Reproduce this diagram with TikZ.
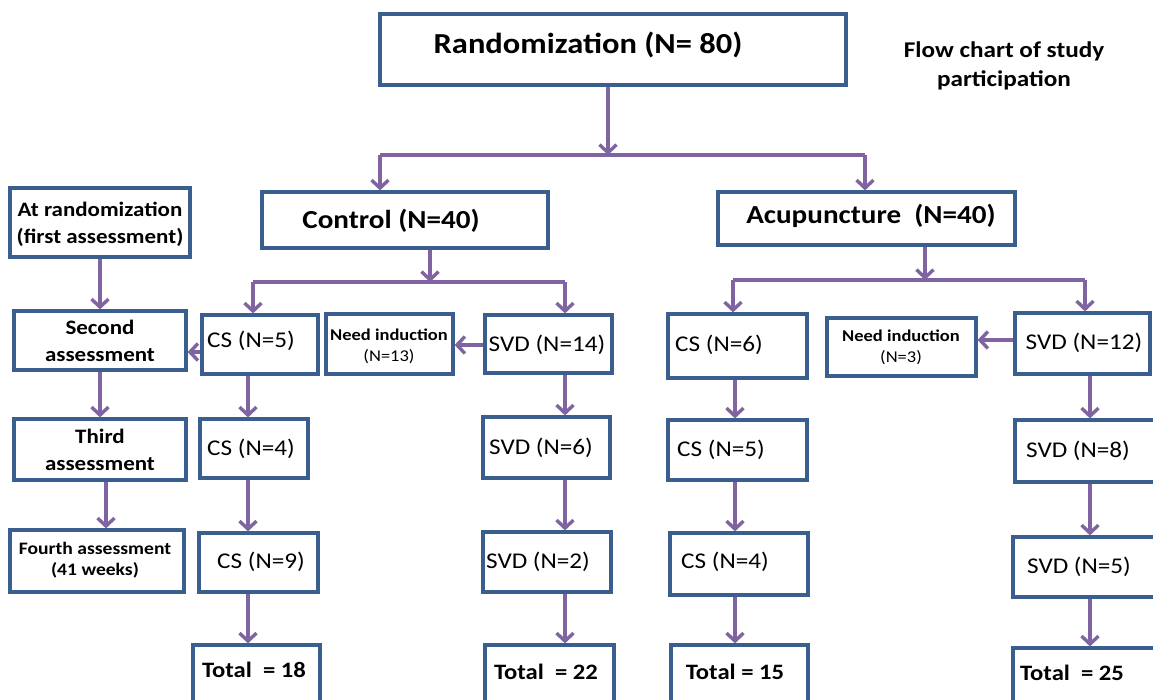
\documentclass[tikz,border=0pt]{standalone}
\usepackage{fontspec}
\setmainfont[FakeStretch=1.12]{Carlito}
\usetikzlibrary{arrows.meta}
\definecolor{boxblue}{HTML}{3A5F8E}
\definecolor{arrpurple}{HTML}{8064A2}
\newcommand\mkbox[5]{\node[box, minimum width={#3-#2}, minimum height={#5-#4}] (#1) at ({(#2+#3)/2},{(#4+#5)/2}) {};}
\newcommand\fsz[2]{\fontsize{#1}{#2}\selectfont}
\tikzset{
  box/.style={draw=boxblue, line width=3.2pt, fill=white, inner sep=0pt},
  arr/.style={draw=arrpurple, line width=3.4pt, -{Straight Barb[length=8pt,width=17pt]}},
  ln/.style={draw=arrpurple, line width=3.4pt},
  txt/.style={inner sep=0pt, text=black, align=center},
  big/.style={txt, font=\fsz{29}{34}\bfseries},
  mid/.style={txt, font=\fsz{26}{31}\bfseries},
  side/.style={txt, font=\fsz{20.5}{27}\bfseries},
  reg/.style={txt, font=\fsz{22.5}{27}},
  tot/.style={txt, font=\fsz{22}{26}\bfseries},
}
\begin{document}
\begin{tikzpicture}[x=1pt,y=-1pt]
\useasboundingbox (0,0) rectangle (1153,700);
\clip (0,0) rectangle (1153,700);
\fill[white] (0,0) rectangle (1153,700);

% boxes
\mkbox{rand}{380}{846}{14}{85}
\mkbox{ctrl}{262}{548}{192}{248}
\mkbox{acu}{718}{1015}{192}{245}
\mkbox{a1}{10}{190}{188}{257}
\mkbox{a2}{14}{186}{311}{370}
\mkbox{a3}{14}{186}{419}{480}
\mkbox{a4}{10}{184}{530}{592}
\mkbox{cs5}{202}{318}{315}{374}
\mkbox{ni13}{326}{453}{314}{374}
\mkbox{svd14}{485}{612}{315}{373}
\mkbox{cs4}{200}{308}{419}{478}
\mkbox{cs9}{199}{318}{533}{592}
\mkbox{svd6}{483}{610}{417}{478}
\mkbox{svd2}{483}{611}{532}{592}
\mkbox{tot18}{193}{320}{645}{720}
\mkbox{tot22}{485}{614}{645}{720}
\mkbox{cs6}{668}{807}{314}{378}
\mkbox{ni3}{827}{976}{318}{376}
\mkbox{svd12}{1015}{1150}{313}{374}
\mkbox{csb5}{668}{807}{420}{480}
\mkbox{csb4}{670}{808}{533}{595}
\mkbox{tot15}{671}{808}{645}{720}
\mkbox{svd8}{1015}{1165}{420}{482}
\mkbox{svd5}{1013}{1165}{537}{597}
\mkbox{tot25}{1013}{1165}{648}{720}

% texts
\node[big] (randT) at (588,45) {Randomization (N= 80)};
\node[txt, font=\fsz{22.5}{29}\bfseries] (title) at (1004,66) {Flow chart of study\\participation};
\node[mid] (ctrlT) at (391,221) {Control (N=40)};
\node[mid] (acuT) at (871,216) {Acupuncture\ \ (N=40)};
\node[side] (a1T) at (100,224) {At randomization\\(first assessment)};
\node[side] (a2T) at (100,341) {Second\\assessment};
\node[side] (a3T) at (100,450) {Third\\assessment};
\node[txt, font=\fsz{17.5}{21}\bfseries] (a4T) at (95,560) {Fourth assessment\\(41 weeks)};
\node[reg] (cs5T) at (251,341) {CS (N=5)};
\node[txt, font=\fsz{16.5}{21}] (ni13T) at (389,346) {\textbf{Need induction}\\(N=13)};
\node[reg] (svd14T) at (547,345) {SVD (N=14)};
\node[reg] (cs4T) at (251,449) {CS (N=4)};
\node[reg] (cs9T) at (261,562) {CS (N=9)};
\node[reg] (svd6T) at (541,448) {SVD (N=6)};
\node[reg] (svd2T) at (538,562) {SVD (N=2)};
\node[tot] (tot18T) at (254,670) {Total\ \ = 18};
\node[tot] (tot22T) at (546,672) {Total\ \ = 22};
\node[reg] (cs6T) at (719,345) {CS (N=6)};
\node[txt, font=\fsz{16.5}{21}] (ni3T) at (901,347) {\textbf{Need induction}\\(N=3)};
\node[reg] (svd12T) at (1084,343) {SVD (N=12)};
\node[reg] (csb5T) at (721,450) {CS (N=5)};
\node[reg] (csb4T) at (725,562) {CS (N=4)};
\node[tot] (tot15T) at (735,672) {Total = 15};
\node[reg] (svd8T) at (1078,451) {SVD (N=8)};
\node[reg] (svd5T) at (1079,567) {SVD (N=5)};
\node[tot] (tot25T) at (1072,673) {Total\ \ = 25};

% junction coordinates
\coordinate (j0) at (608,155);
\coordinate (j0L) at (380,155);
\coordinate (j0R) at (865,155);
\coordinate (j1) at (430,282);
\coordinate (j1L) at (253,282);
\coordinate (j1R) at (565,282);
\coordinate (j2) at (925,280);
\coordinate (j2L) at (733,280);
\coordinate (j2R) at (1085,280);
\coordinate (colL) at (100,0);
\coordinate (colL2) at (106,0);
\coordinate (colA) at (248,0);
\coordinate (colB) at (565,0);
\coordinate (colC) at (735,0);
\coordinate (colD) at (1090,0);
\coordinate (rowA) at (0,352);
\coordinate (rowB) at (0,345);
\coordinate (rowC) at (0,340);

% top split
\draw[arr] (rand.south -| j0) -- (j0);
\draw[ln] (j0L) -- (j0R);
\draw[arr] (j0L) -- (j0L |- ctrl.north);
\draw[arr] (j0R) -- (j0R |- acu.north);

% control split
\draw[arr] (ctrl.south -| j1) -- (j1);
\draw[ln] (j1L) -- (j1R);
\draw[arr] (j1L) -- (j1L |- cs5.north);
\draw[arr] (j1R) -- (j1R |- svd14.north);

% acupuncture split
\draw[arr] (acu.south -| j2) -- (j2);
\draw[ln] (j2L) -- (j2R);
\draw[arr] (j2L) -- (j2L |- cs6.north);
\draw[arr] (j2R) -- (j2R |- svd12.north);

% left column
\draw[arr] (a1.south -| colL) -- (a2.north -| colL);
\draw[arr] (a2.south -| colL) -- (a3.north -| colL);
\draw[arr] (a3.south -| colL2) -- (a4.north -| colL2);

% side arrows
\draw[arr] (cs5.west |- rowA) -- (a2.east |- rowA);
\draw[arr] (svd14.west |- rowB) -- (ni13.east |- rowB);
\draw[arr] (svd12.west |- rowC) -- (ni3.east |- rowC);

% vertical chains
\draw[arr] (cs5.south -| colA) -- (cs4.north -| colA);
\draw[arr] (cs4.south -| colA) -- (cs9.north -| colA);
\draw[arr] (cs9.south -| colA) -- (tot18.north -| colA);
\draw[arr] (svd14.south -| colB) -- (svd6.north -| colB);
\draw[arr] (svd6.south -| colB) -- (svd2.north -| colB);
\draw[arr] (svd2.south -| colB) -- (tot22.north -| colB);
\draw[arr] (cs6.south -| colC) -- (csb5.north -| colC);
\draw[arr] (csb5.south -| colC) -- (csb4.north -| colC);
\draw[arr] (csb4.south -| colC) -- (tot15.north -| colC);
\draw[arr] (svd12.south -| colD) -- (svd8.north -| colD);
\draw[arr] (svd8.south -| colD) -- (svd5.north -| colD);
\draw[arr] (svd5.south -| colD) -- (tot25.north -| colD);
\end{tikzpicture}
\end{document}
